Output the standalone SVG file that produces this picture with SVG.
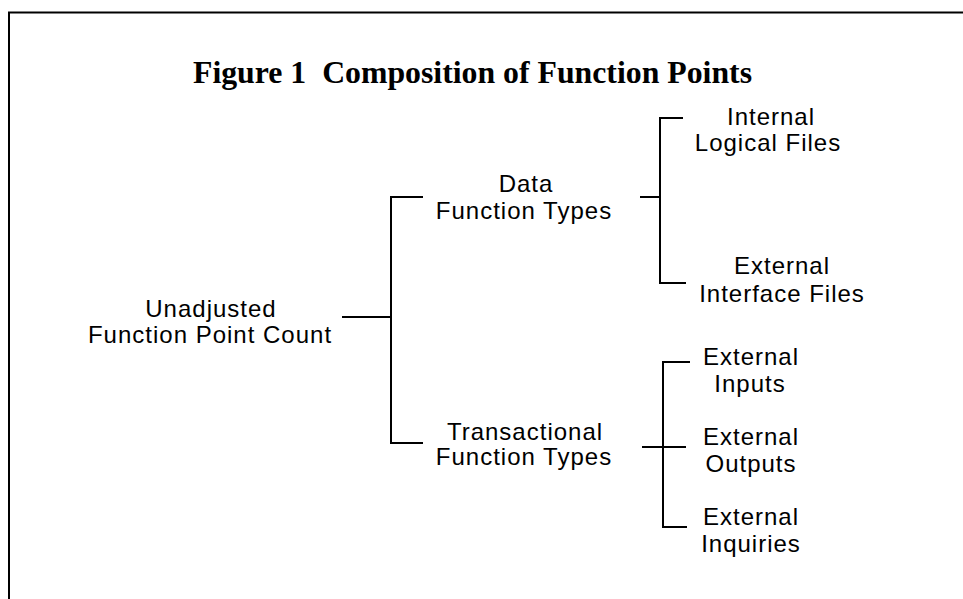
<svg xmlns="http://www.w3.org/2000/svg" width="963" height="599" viewBox="0 0 963 599">
  <style>
    .frame { fill: none; stroke: #000; stroke-width: 2; }
    .link { fill: none; stroke: #000; stroke-width: 2; }
    .title { font-family: "Liberation Serif", "Times New Roman", serif; font-weight: bold; font-size: 32px; fill: #000; white-space: pre; }
    .label { font-family: "Liberation Sans", Arial, sans-serif; font-size: 24px; letter-spacing: 1px; fill: #000; text-anchor: middle; }
  </style>

  <rect x="0" y="0" width="963" height="599" fill="#fff"/>

  <!-- page frame: top and left rules only -->
  <path class="frame" d="M9,599 V12.5 H963"/>

  <text class="title" x="193" y="83" xml:space="preserve" textLength="559" lengthAdjust="spacingAndGlyphs">Figure 1  Composition of Function Points</text>

  <g id="connectors">
    <!-- root to first level -->
    <path class="link" d="M342,317 H391"/>
    <path class="link" d="M423,197 H391 V443 H423"/>
    <!-- data function types branch -->
    <path class="link" d="M640,197 H660"/>
    <path class="link" d="M683,118 H660 V283 H686"/>
    <!-- transactional function types branch -->
    <path class="link" d="M642,447 H686"/>
    <path class="link" d="M690,362 H663 V527 H687"/>
  </g>

  <g id="ufpc">
    <text class="label" x="211" y="317">Unadjusted</text>
    <text class="label" x="210" y="343">Function Point Count</text>
  </g>

  <g id="data-function-types">
    <text class="label" x="526" y="192">Data</text>
    <text class="label" x="524" y="219">Function Types</text>
  </g>

  <g id="transactional-function-types">
    <text class="label" x="525" y="440">Transactional</text>
    <text class="label" x="524" y="465">Function Types</text>
  </g>

  <g id="internal-logical-files">
    <text class="label" x="771" y="125">Internal</text>
    <text class="label" x="768" y="151">Logical Files</text>
  </g>

  <g id="external-interface-files">
    <text class="label" x="782" y="274">External</text>
    <text class="label" x="782" y="302">Interface Files</text>
  </g>

  <g id="external-inputs">
    <text class="label" x="751" y="365">External</text>
    <text class="label" x="750" y="392">Inputs</text>
  </g>

  <g id="external-outputs">
    <text class="label" x="751" y="445">External</text>
    <text class="label" x="751" y="472">Outputs</text>
  </g>

  <g id="external-inquiries">
    <text class="label" x="751" y="525">External</text>
    <text class="label" x="751" y="552">Inquiries</text>
  </g>
</svg>
